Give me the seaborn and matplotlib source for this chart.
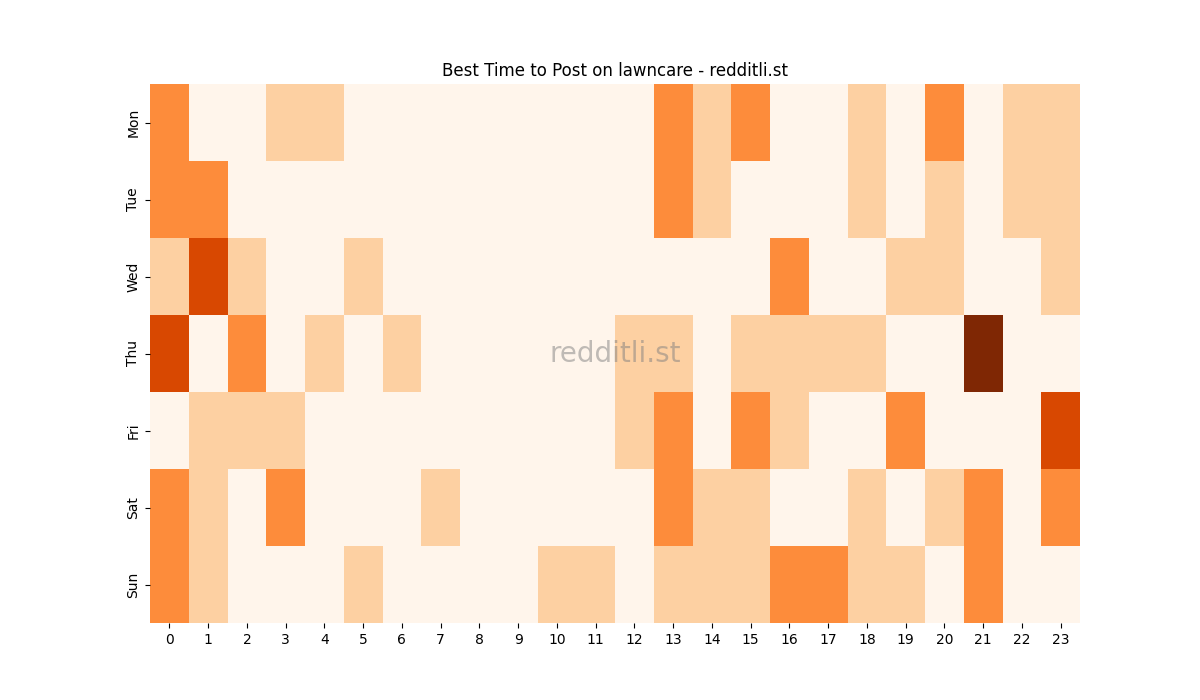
import matplotlib
matplotlib.use("Agg")
import matplotlib.pyplot as plt
import seaborn as sns
import pandas as pd

days = ["Mon", "Tue", "Wed", "Thu", "Fri", "Sat", "Sun"]
hours = list(range(24))
mon = [2,0,0,1,1,0,0,0,0,0,0,0,0,2,1,2,0,0,1,0,2,0,1,1]
tue = [2,2,0,0,0,0,0,0,0,0,0,0,0,2,1,0,0,0,1,0,1,0,1,1]
wed = [1,3,1,0,0,1,0,0,0,0,0,0,0,0,0,0,2,0,0,1,1,0,0,1]
thu = [3,0,2,0,1,0,1,0,0,0,0,0,1,1,0,1,1,1,1,0,0,4,0,0]
fri = [0,1,1,1,0,0,0,0,0,0,0,0,1,2,0,2,1,0,0,2,0,0,0,3]
sat = [2,1,0,2,0,0,0,1,0,0,0,0,0,2,1,1,0,0,1,0,1,2,0,2]
sun = [2,1,0,0,0,1,0,0,0,0,1,1,0,1,1,1,2,2,1,1,0,2,0,0]

df = pd.DataFrame([mon, tue, wed, thu, fri, sat, sun], index=days, columns=hours)

fig, ax = plt.subplots(figsize=(12, 7), dpi=100)
sns.heatmap(df, cmap="Oranges", vmin=0, vmax=4, cbar=False, ax=ax)
ax.set_title("Best Time to Post on lawncare - redditli.st")
ax.text(0.5, 0.5, "redditli.st", transform=ax.transAxes, ha="center", va="center",
        fontsize=20, color="grey", alpha=0.5)
fig.savefig("out.png")
